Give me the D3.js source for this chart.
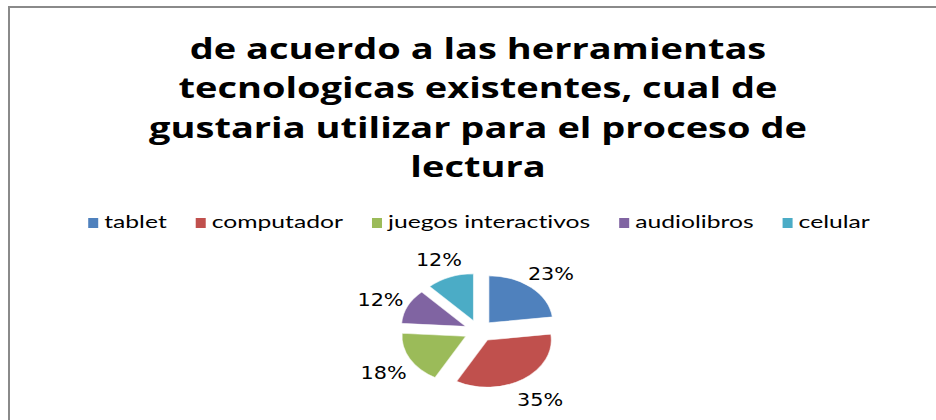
<!DOCTYPE html>
<html>
<head>
<meta charset="utf-8">
<script src="https://cdn.jsdelivr.net/npm/d3@7"></script>
<style>
  body { margin: 0; background: #fff; }
  svg { display: block; }
  text { font-variant-ligatures: none; }
</style>
</head>
<body>
<svg id="chart" width="936" height="420"></svg>
<script>
var titleLines = [
    "de acuerdo a las herramientas",
    "tecnologicas existentes, cual de",
    "gustaria utilizar para el proceso de",
    "lectura"
];
var categories = ["tablet", "computador", "juegos interactivos", "audiolibros", "celular"];
var values = [23, 35, 18, 12, 12];
var labels = ["23%", "35%", "18%", "12%", "12%"];
var colors = ["#4f81bd", "#c0504d", "#9bbb59", "#8064a2", "#4bacc6"];

var width = 936,
    height = 420,
    stretch = 1.36,   // the picture is wider than it is tall
    cx = 479,
    cy = 331,
    radius = 47,
    explode = 11,
    labelR = 80;

var svg = d3.select("#chart");

// frame: only top and left edges show
svg.append("path")
    .attr("d", "M9," + height + "V7H" + width)
    .attr("fill", "none")
    .attr("stroke", "#8a8a8a")
    .attr("stroke-width", 2);

// stretch text to the wide look of the original
function widen(sel, k) {
    sel.each(function () {
        var len = this.getComputedTextLength();
        d3.select(this)
            .attr("textLength", len * k)
            .attr("lengthAdjust", "spacingAndGlyphs");
    });
}

// title
var title = svg.append("g")
    .attr("font-family", "'Open Sans', sans-serif")
    .attr("font-weight", "bold")
    .attr("font-size", 29)
    .attr("fill", "#000")
    .attr("text-anchor", "middle");

title.selectAll("text")
    .data(titleLines)
    .join("text")
    .attr("x", 478)
    .attr("y", (d, i) => 59 + i * 39.3)
    .text(d => d)
    .call(widen, 1.31);

// legend
var legend = svg.append("g")
    .attr("font-family", "Lato, sans-serif")
    .attr("font-size", 18)
    .attr("fill", "#000");

var items = legend.selectAll("g")
    .data(categories)
    .join("g");

items.append("text")
    .attr("y", 228)
    .text(d => d)
    .call(widen, 1.37);

var sq = 10, sqGap = 6, itemGap = 29;
var x = 0;
var offsets = [];
items.each(function () {
    var w = d3.select(this).select("text").attr("textLength") * 1;
    offsets.push(x);
    x += sq + sqGap + w + itemGap;
});
var total = x - itemGap;
var x0 = 479 - total / 2;

items.attr("transform", (d, i) => "translate(" + (x0 + offsets[i]) + ",0)");
items.select("text").attr("x", sq + sqGap);
items.insert("rect", "text")
    .attr("x", 0)
    .attr("y", 218)
    .attr("width", sq)
    .attr("height", sq)
    .attr("fill", (d, i) => colors[i]);

// pie
var pie = d3.pie().sort(null).value(d => d);
var arcs = pie(values);
var arc = d3.arc().innerRadius(0).outerRadius(radius);

var pieG = svg.append("g")
    .attr("transform", "translate(" + cx + "," + cy + ") scale(" + stretch + ",1)");

pieG.selectAll("path")
    .data(arcs)
    .join("path")
    .attr("transform", d => {
        var a = (d.startAngle + d.endAngle) / 2;
        return "translate(" + (Math.sin(a) * explode) + "," + (-Math.cos(a) * explode) + ")";
    })
    .attr("d", arc)
    .attr("fill", (d, i) => colors[i])
    .attr("stroke", "rgba(255,255,255,0.6)")
    .attr("stroke-width", 0.8);

// data labels
svg.append("g")
    .attr("font-family", "'DejaVu Sans', sans-serif")
    .attr("font-size", 17)
    .attr("fill", "#000")
    .attr("text-anchor", "middle")
    .selectAll("text")
    .data(arcs)
    .join("text")
    .attr("x", d => {
        var a = (d.startAngle + d.endAngle) / 2;
        return cx + Math.sin(a) * labelR * stretch;
    })
    .attr("y", d => {
        var a = (d.startAngle + d.endAngle) / 2;
        return cy - Math.cos(a) * labelR + 9;
    })
    .text((d, i) => labels[i])
    .call(widen, 1.22);
</script>
</body>
</html>
